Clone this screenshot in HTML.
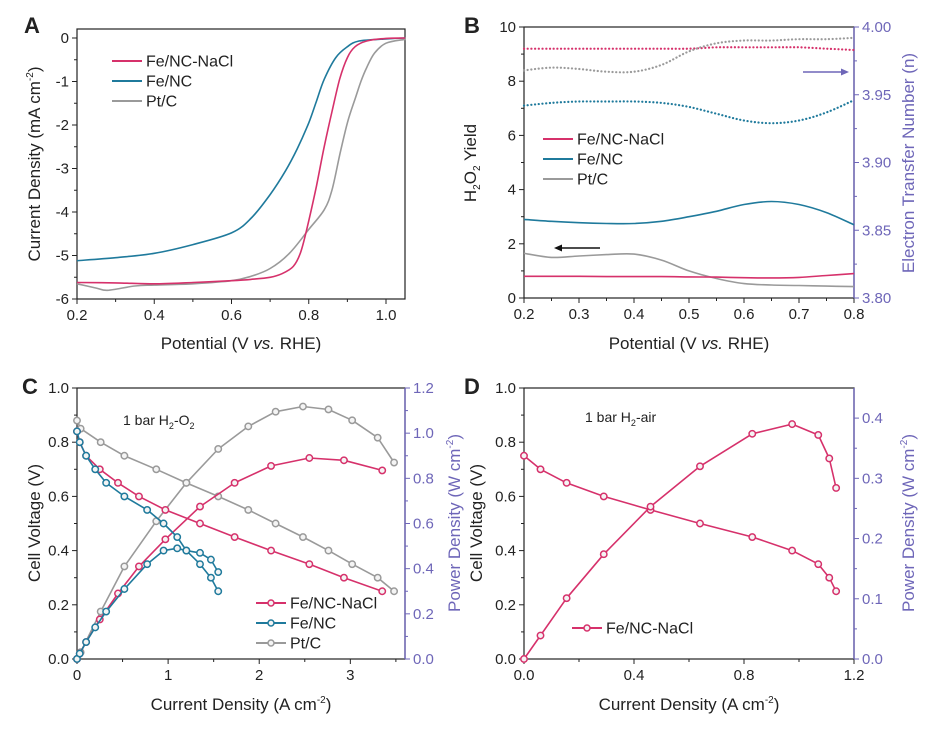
<!DOCTYPE html>
<html><head><meta charset="utf-8"><style>
body{margin:0;background:#fff;}
svg{display:block;font-family:"Liberation Sans",Arial,sans-serif;}
</style></head><body>
<svg id="fig" width="928" height="734" viewBox="0 0 928 734" xmlns="http://www.w3.org/2000/svg"></svg>
<script>
// ---------- Panel A data ----------
const aNaClX=[0.2,0.3,0.4,0.5,0.6,0.65,0.7,0.73,0.76,0.78,0.8,0.82,0.84,0.86,0.88,0.9,0.92,0.95,1.0,1.05];
const aNaClY=[-5.62,-5.63,-5.65,-5.62,-5.58,-5.55,-5.5,-5.42,-5.25,-4.9,-4.2,-3.4,-2.5,-1.7,-0.95,-0.45,-0.2,-0.07,-0.01,0];
const aFeX=[0.2,0.3,0.4,0.5,0.6,0.65,0.7,0.74,0.77,0.8,0.82,0.84,0.87,0.9,0.93,1.0,1.05];
const aFeY=[-5.12,-5.05,-4.95,-4.75,-4.48,-4.15,-3.6,-3.05,-2.55,-1.95,-1.45,-0.95,-0.45,-0.2,-0.07,-0.02,0];
const aPtX=[0.2,0.25,0.28,0.35,0.4,0.5,0.6,0.65,0.7,0.75,0.8,0.84,0.86,0.88,0.9,0.92,0.935,0.95,0.97,1.0,1.05];
const aPtY=[-5.65,-5.75,-5.8,-5.7,-5.68,-5.65,-5.58,-5.48,-5.3,-4.95,-4.4,-3.95,-3.5,-2.7,-1.95,-1.4,-1.0,-0.68,-0.35,-0.12,-0.03];
// ---------- Panel B data ----------
const bX=[0.2,0.25,0.3,0.35,0.4,0.45,0.5,0.55,0.6,0.65,0.7,0.75,0.8];
const bNaClYield=[0.8,0.8,0.8,0.79,0.79,0.79,0.78,0.77,0.75,0.74,0.76,0.83,0.9];
const bFeYield=[2.9,2.83,2.78,2.75,2.75,2.83,3.0,3.2,3.45,3.56,3.45,3.15,2.7];
const bPtYield=[1.65,1.5,1.55,1.6,1.62,1.4,1.0,0.72,0.53,0.48,0.46,0.44,0.42];
const bNaClN=[3.984,3.984,3.984,3.984,3.984,3.984,3.984,3.985,3.985,3.985,3.985,3.984,3.983];
const bFeN=[3.942,3.944,3.945,3.945,3.945,3.944,3.941,3.936,3.931,3.929,3.931,3.937,3.946];
const bPtN=[3.968,3.970,3.969,3.967,3.967,3.972,3.982,3.988,3.990,3.990,3.991,3.991,3.992];
// ---------- Panel C data ----------
const cNaClI=[0.03,0.1,0.25,0.45,0.68,0.97,1.35,1.73,2.13,2.55,2.93,3.35];
const cNaClV=[0.8,0.75,0.7,0.65,0.6,0.55,0.5,0.45,0.4,0.35,0.3,0.25];
const cNaClP=[0.024,0.075,0.175,0.29,0.41,0.53,0.675,0.78,0.855,0.89,0.88,0.835];
const cFeI=[0.03,0.1,0.2,0.32,0.52,0.77,0.95,1.1,1.2,1.35,1.47,1.55];
const cFeV=[0.8,0.75,0.7,0.65,0.6,0.55,0.5,0.45,0.4,0.35,0.3,0.25];
const cFeP=[0.024,0.075,0.14,0.21,0.31,0.42,0.48,0.49,0.48,0.47,0.44,0.385];
const cPtI=[0.04,0.26,0.52,0.87,1.2,1.55,1.88,2.18,2.48,2.76,3.02,3.3,3.48];
const cPtV=[0.85,0.8,0.75,0.7,0.65,0.6,0.55,0.5,0.45,0.4,0.35,0.3,0.25];
const cPtP=[0.03,0.21,0.41,0.61,0.78,0.93,1.03,1.095,1.118,1.105,1.057,0.98,0.87];
// ---------- Panel D data ----------
const dI=[0,0.06,0.155,0.29,0.46,0.64,0.83,0.975,1.07,1.11,1.135];
const dV=[0.75,0.7,0.65,0.6,0.55,0.5,0.45,0.4,0.35,0.3,0.25];
const dP=[0,0.039,0.101,0.174,0.253,0.32,0.374,0.39,0.372,0.333,0.284];
// tick labels
const aXTicks=["0.2","0.4","0.6","0.8","1.0"];
const aYTicks=["0","-1","-2","-3","-4","-5","-6"];
const bXTicks=["0.2","0.3","0.4","0.5","0.6","0.7","0.8"];
const bYTicks=["0","2","4","6","8","10"];
const bRTicks=["3.80","3.85","3.90","3.95","4.00"];
const cXTicks=["0","1","2","3"];
const cYTicks=["0.0","0.2","0.4","0.6","0.8","1.0"];
const cRTicks=["0.0","0.2","0.4","0.6","0.8","1.0","1.2"];
const dXTicks=["0.0","0.4","0.8","1.2"];
const dYTicks=["0.0","0.2","0.4","0.6","0.8","1.0"];
const dRTicks=["0.0","0.1","0.2","0.3","0.4"];

const PINK="#d6316b",BLUE="#1f7a9c",GRAY="#9a9a9a",PUR="#6e66b8";
const NS="http://www.w3.org/2000/svg";
const svg=document.getElementById('fig');
function el(tag,attrs,parent,text){const e=document.createElementNS(NS,tag);for(const k in attrs)e.setAttribute(k,attrs[k]);if(text!==undefined)e.textContent=text;(parent||svg).appendChild(e);return e;}
function lin(d0,d1,p0,p1){return v=>p0+(v-d0)*(p1-p0)/(d1-d0);}

function axesBox(g,L,T,R,B,rightColor){
  const f=el('rect',{x:L,y:T,width:R-L,height:B-T,fill:'none',stroke:'#222','stroke-width':1.2},g);
  
  
  if(rightColor){const r=el('line',{x1:R,y1:T,x2:R,y2:B,stroke:rightColor,'stroke-width':1.4},g);
    
    }
}
function xTicks(g,labels,vals,sx,B,minor){
  vals.forEach((v,i)=>{const x=sx(v);el('line',{x1:x,y1:B,x2:x,y2:B+5,stroke:'#222','stroke-width':1},g);
    const t=el('text',{x:x,y:B+21,'text-anchor':'middle','font-size':15,fill:'#222'},g,labels[i]);
    
    });
  (minor||[]).forEach(v=>{const x=sx(v);el('line',{x1:x,y1:B,x2:x,y2:B+3,stroke:'#222','stroke-width':1},g);});
}
function yTicks(g,labels,vals,sy,L,minor,color,right){
  const c=color||'#222',d=right?1:-1;
  vals.forEach((v,i)=>{const y=sy(v);el('line',{x1:L,y1:y,x2:L+5*d,y2:y,stroke:c,'stroke-width':1},g);
    const t=el('text',{x:L+8*d,y:y+5,'text-anchor':right?'start':'end','font-size':15,fill:c},g,labels[i]);
    
    });
  (minor||[]).forEach(v=>{const y=sy(v);el('line',{x1:L,y1:y,x2:L+3*d,y2:y,stroke:c,'stroke-width':1},g);});
}
function smoothPath(P){
  let d='M'+P[0][0].toFixed(1)+','+P[0][1].toFixed(1);
  for(let i=0;i<P.length-1;i++){
    const p0=P[i-1]||P[i],p1=P[i],p2=P[i+1],p3=P[i+2]||P[i+1];
    const c1=[p1[0]+(p2[0]-p0[0])/6,p1[1]+(p2[1]-p0[1])/6];
    const c2=[p2[0]-(p3[0]-p1[0])/6,p2[1]-(p3[1]-p1[1])/6];
    d+=' C'+c1[0].toFixed(1)+','+c1[1].toFixed(1)+' '+c2[0].toFixed(1)+','+c2[1].toFixed(1)+' '+p2[0].toFixed(1)+','+p2[1].toFixed(1);
  }
  return d;
}
function line(g,xs,ys,sx,sy,color,name,dotted,markers){
  const P=xs.map((x,i)=>[sx(x),sy(ys[i])]);
  let p;
  if(markers){
    p=el('polyline',{points:P.map(q=>q[0].toFixed(1)+','+q[1].toFixed(1)).join(' '),fill:'none',stroke:color,'stroke-width':1.6,'stroke-linejoin':'round'},g);
  } else {
    const a={d:smoothPath(P),fill:'none',stroke:color,'stroke-width':dotted?2.2:1.6};
    if(dotted){a['stroke-dasharray']='0.1,3.6';a['stroke-linecap']='round';}
    p=el('path',a,g);
  }
  
  
  if(markers){P.forEach(q=>{const c=el('circle',{cx:q[0],cy:q[1],r:3.2,fill:'#f4f4f4',stroke:color,'stroke-width':1.5},g);
    
    });}
}
function text(g,x,y,s,opts,name){const t=el('text',Object.assign({x:x,y:y,'font-size':16,fill:'#222'},opts||{}),g);t.innerHTML=s;
  
  return t;}
function legend(g,x,y,items,markers){
  items.forEach((it,i)=>{const yy=y+i*20;
    el('line',{x1:x,y1:yy,x2:x+30,y2:yy,stroke:it[1],'stroke-width':2},g);
    if(markers)el('circle',{cx:x+15,cy:yy,r:3,fill:'#f4f4f4',stroke:it[1],'stroke-width':1.5},g);
    text(g,x+34,yy+5.5,it[0],{'font-size':16},'legend-entry');});
}
function range(a,b,s){const r=[];for(let v=a;v<=b+1e-9;v+=s)r.push(+v.toFixed(4));return r;}

// ================= Panel A =================
{const g=el('g',{});
 const L=77,T=29,R=405,B=299;const sx=lin(0.2,1.0,77,386),sy=lin(0,-6,38,299);
 axesBox(g,L,T,R,B);
 xTicks(g,aXTicks,[0.2,0.4,0.6,0.8,1.0],sx,B,range(0.3,0.9,0.2));
 yTicks(g,aYTicks,[0,-1,-2,-3,-4,-5,-6],sy,L,range(-5.5,-0.5,1));
 line(g,aFeX,aFeY,sx,sy,BLUE,'fe-nc-curve');
 line(g,aPtX,aPtY,sx,sy,GRAY,'pt-c-curve');
 line(g,aNaClX,aNaClY,sx,sy,PINK,'fe-nc-nacl-curve');
 legend(g,112,61,[["Fe/NC-NaCl",PINK],["Fe/NC",BLUE],["Pt/C",GRAY]]);
 text(g,24,33,'A',{'font-size':22,'font-weight':'bold'},'panel-label-a');
 text(g,241,349,'Potential (V <tspan font-style="italic">vs.</tspan> RHE)',{'font-size':17,'text-anchor':'middle'},'x-axis-title');
 text(g,0,0,'Current Density (mA cm<tspan font-size="10" dy="-7">-2</tspan><tspan dy="7">)</tspan>',{'font-size':17,'text-anchor':'middle',transform:'translate(40,164) rotate(-90)'},'y-axis-title');
}
// ================= Panel B =================
{const g=el('g',{});
 const L=524,T=27,R=854,B=298;const sx=lin(0.2,0.8,L,R),sy=lin(0,10,B,T),sn=lin(3.8,4.0,B,T);
 axesBox(g,L,T,R,B,PUR);
 xTicks(g,bXTicks,[0.2,0.3,0.4,0.5,0.6,0.7,0.8],sx,B,range(0.25,0.75,0.1));
 yTicks(g,bYTicks,[0,2,4,6,8,10],sy,L,range(1,9,2));
 yTicks(g,bRTicks,[3.8,3.85,3.9,3.95,4.0],sn,R,range(3.825,3.975,0.05),PUR,true);
 line(g,bX,bNaClN,sx,sn,PINK,'fe-nc-nacl-n-curve',true);
 line(g,bX,bPtN,sx,sn,GRAY,'pt-c-n-curve',true);
 line(g,bX,bFeN,sx,sn,BLUE,'fe-nc-n-curve',true);
 line(g,bX,bFeYield,sx,sy,BLUE,'fe-nc-yield-curve');
 line(g,bX,bPtYield,sx,sy,GRAY,'pt-c-yield-curve');
 line(g,bX,bNaClYield,sx,sy,PINK,'fe-nc-nacl-yield-curve');
 legend(g,543,139,[["Fe/NC-NaCl",PINK],["Fe/NC",BLUE],["Pt/C",GRAY]]);
 el('line',{x1:600,y1:248,x2:560,y2:248,stroke:'#111','stroke-width':1.4},g);
 el('polygon',{points:'554,248 562,244.5 562,251.5',fill:'#111'},g);
 el('line',{x1:803,y1:72,x2:843,y2:72,stroke:PUR,'stroke-width':1.4},g);
 el('polygon',{points:'849,72 841,68.5 841,75.5',fill:PUR},g);
 text(g,464,33,'B',{'font-size':22,'font-weight':'bold'},'panel-label-b');
 text(g,689,349,'Potential (V <tspan font-style="italic">vs.</tspan> RHE)',{'font-size':17,'text-anchor':'middle'},'x-axis-title');
 text(g,0,0,'H<tspan font-size="10" dy="4">2</tspan><tspan dy="-4">O</tspan><tspan font-size="10" dy="4">2</tspan><tspan dy="-4"> Yield</tspan>',{'font-size':17,'text-anchor':'middle',transform:'translate(476,163) rotate(-90)'},'y-axis-title');
 text(g,0,0,'Electron Transfer Number (n)',{'font-size':17,'text-anchor':'middle',fill:PUR,transform:'translate(914,163) rotate(-90)'},'right-axis-title');
}
// ================= Panel C =================
{const g=el('g',{});
 const L=77,T=388,R=405,B=659;const sx=lin(0,3.6,L,R),sy=lin(0,1,B,T),sp=lin(0,1.2,B,T);
 axesBox(g,L,T,R,B,PUR);
 xTicks(g,cXTicks,[0,1,2,3],sx,B,[0.5,1.5,2.5,3.5]);
 yTicks(g,cYTicks,[0,0.2,0.4,0.6,0.8,1.0],sy,L,range(0.1,0.9,0.2));
 yTicks(g,cRTicks,[0,0.2,0.4,0.6,0.8,1.0,1.2],sp,R,range(0.1,1.1,0.2),PUR,true);
 line(g,[0].concat(cPtI),[0.88].concat(cPtV),sx,sy,GRAY,'pt-c-voltage',false,true);
 line(g,[0].concat(cPtI),[0].concat(cPtP),sx,sp,GRAY,'pt-c-power',false,true);
 line(g,[0].concat(cNaClI),[0.84].concat(cNaClV),sx,sy,PINK,'fe-nc-nacl-voltage',false,true);
 line(g,[0].concat(cNaClI),[0].concat(cNaClP),sx,sp,PINK,'fe-nc-nacl-power',false,true);
 line(g,[0].concat(cFeI),[0.84].concat(cFeV),sx,sy,BLUE,'fe-nc-voltage',false,true);
 line(g,[0].concat(cFeI),[0].concat(cFeP),sx,sp,BLUE,'fe-nc-power',false,true);
 legend(g,256,603,[["Fe/NC-NaCl",PINK],["Fe/NC",BLUE],["Pt/C",GRAY]],true);
 text(g,123,425,'1 bar H<tspan font-size="9" dy="4">2</tspan><tspan dy="-4">-O</tspan><tspan font-size="9" dy="4">2</tspan>',{'font-size':14},'condition-label');
 text(g,22,394,'C',{'font-size':22,'font-weight':'bold'},'panel-label-c');
 text(g,241,710,'Current Density (A cm<tspan font-size="10" dy="-7">-2</tspan><tspan dy="7">)</tspan>',{'font-size':17,'text-anchor':'middle'},'x-axis-title');
 text(g,0,0,'Cell Voltage (V)',{'font-size':17,'text-anchor':'middle',transform:'translate(40,523) rotate(-90)'},'y-axis-title');
 text(g,0,0,'Power Density (W cm<tspan font-size="10" dy="-7">-2</tspan><tspan dy="7">)</tspan>',{'font-size':17,'text-anchor':'middle',fill:PUR,transform:'translate(460,523) rotate(-90)'},'right-axis-title');
}
// ================= Panel D =================
{const g=el('g',{});
 const L=524,T=388,R=854,B=659;const sx=lin(0,1.2,L,R),sy=lin(0,1,B,T),sp=lin(0,0.45,B,T);
 axesBox(g,L,T,R,B,PUR);
 xTicks(g,dXTicks,[0,0.4,0.8,1.2],sx,B,[0.2,0.6,1.0]);
 yTicks(g,dYTicks,[0,0.2,0.4,0.6,0.8,1.0],sy,L,range(0.1,0.9,0.2));
 yTicks(g,dRTicks,[0,0.1,0.2,0.3,0.4],sp,R,range(0.05,0.35,0.1),PUR,true);
 line(g,dI,dV,sx,sy,PINK,'fe-nc-nacl-voltage',false,true);
 line(g,dI,dP,sx,sp,PINK,'fe-nc-nacl-power',false,true);
 legend(g,572,628,[["Fe/NC-NaCl",PINK]],true);
 text(g,585,422,'1 bar H<tspan font-size="9" dy="4">2</tspan><tspan dy="-4">-air</tspan>',{'font-size':14},'condition-label');
 text(g,464,394,'D',{'font-size':22,'font-weight':'bold'},'panel-label-d');
 text(g,689,710,'Current Density (A cm<tspan font-size="10" dy="-7">-2</tspan><tspan dy="7">)</tspan>',{'font-size':17,'text-anchor':'middle'},'x-axis-title');
 text(g,0,0,'Cell Voltage (V)',{'font-size':17,'text-anchor':'middle',transform:'translate(482,523) rotate(-90)'},'y-axis-title');
 text(g,0,0,'Power Density (W cm<tspan font-size="10" dy="-7">-2</tspan><tspan dy="7">)</tspan>',{'font-size':17,'text-anchor':'middle',fill:PUR,transform:'translate(914,523) rotate(-90)'},'right-axis-title');
}
</script>
</body></html>
